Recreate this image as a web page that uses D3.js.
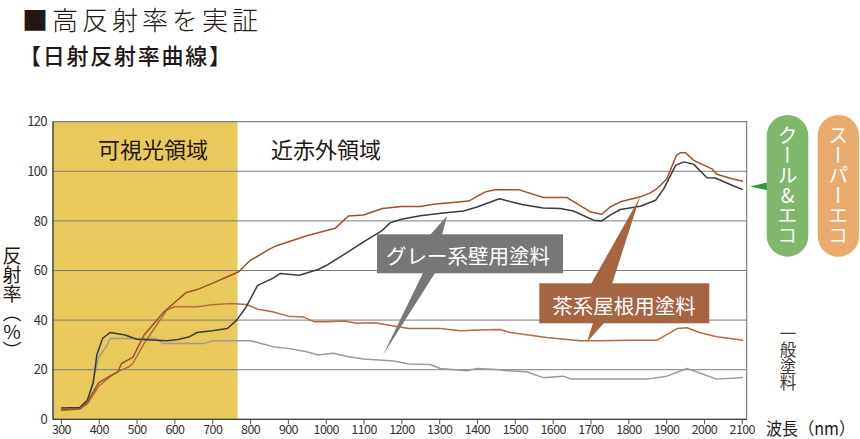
<!DOCTYPE html>
<html>
<head>
<meta charset="utf-8">
<script src="https://cdn.jsdelivr.net/npm/d3@7"></script>
<style>
  body { margin: 0; background: #fff; }
  svg { display: block; font-family: "Noto Sans CJK JP", "Noto Sans", sans-serif; }
  .vt { writing-mode: vertical-rl; text-orientation: upright; }
</style>
</head>
<body>
<svg id="chart" width="860" height="439"></svg>
<script>
// tick labels
var xTicks = d3.range(300, 2101, 100)
var yTicks = [0, 20, 40, 60, 80, 100, 120]
var visibleEnd = 767  // 可視光領域 ends here (nm)

// [wavelength nm, reflectance %]
var superEcoBrown = [[300,3.8],[350,4.3],[370,7],[400,14.8],[430,17.5],[450,19],[460,22.5],[490,25],[520,34],[570,43],[600,47],[630,51],[660,52.3],[700,54.8],[740,57.5],[770,59.5],[800,64],[850,68.5],[870,70],[900,71.5],[950,74],[1000,76],[1025,77],[1060,82],[1100,82.4],[1150,85],[1200,85.8],[1250,85.8],[1285,86.7],[1378,88],[1422,91.7],[1448,92.6],[1510,92.6],[1575,89.4],[1638,89.4],[1700,83.6],[1730,82.7],[1752,85.6],[1779,87.7],[1832,89.7],[1858,91.3],[1876,93],[1902,97],[1927,106.4],[1938,107.5],[1951,107.5],[1973,104.4],[2021,101],[2034,98.8],[2074,97],[2103,96]]

var coolEcoGray = [[300,4.6],[350,4.8],[370,7.8],[385,14.5],[395,26],[410,32.6],[430,35],[470,34],[500,32.3],[540,32],[580,31.7],[610,32.2],[640,33.3],[660,35],[700,35.7],[740,36.6],[765,40],[790,45.4],[820,54],[860,56.8],[880,58.8],[930,58.1],[980,60.4],[1000,61.9],[1050,66.6],[1100,71.5],[1150,76.2],[1170,79.2],[1200,80.7],[1250,82.1],[1311,83.2],[1364,84],[1400,85.6],[1459,88.9],[1519,86.6],[1575,85.2],[1620,85],[1655,84],[1708,80.3],[1730,80],[1752,82.3],[1779,84.6],[1832,85.9],[1872,88.3],[1894,93],[1925,102.4],[1947,103.8],[1973,102.8],[2008,97.4],[2030,97.3],[2074,94.4],[2103,92.6]]

var generalBrown = [[300,3.5],[350,4.2],[370,6.2],[400,13.4],[430,17.2],[450,19.2],[480,21.2],[490,22.5],[520,30.6],[550,37.3],[580,44],[600,45.4],[660,45.4],[700,46.2],[750,46.7],[790,46.3],[820,44.4],[860,43.4],[900,41.6],[940,41.3],[970,39.3],[1000,39.3],[1050,39.6],[1080,38.7],[1130,38.9],[1180,37.6],[1220,36.6],[1303,36.6],[1356,35.7],[1408,36],[1461,36.2],[1488,35],[1584,33],[1673,31.7],[1726,31.7],[1805,31.9],[1876,31.9],[1929,36.6],[1955,36.9],[1990,34.9],[2034,33.3],[2103,31.9]]

var generalGray = [[300,4],[350,4.4],[370,7],[390,18.5],[400,25.2],[420,29.3],[430,32.6],[550,32.6],[570,30.6],[680,30.6],[700,31.7],[800,31.7],[830,30.6],[860,29.3],[900,28.6],[950,27.2],[980,25.9],[1020,26.6],[1060,25.2],[1100,24.3],[1180,23.5],[1220,22.3],[1276,22.1],[1303,20.5],[1373,19.6],[1400,20.5],[1452,20.1],[1479,19.6],[1531,19.2],[1575,16.8],[1628,17.4],[1650,16.2],[1849,16.2],[1902,17.4],[1955,20.5],[2034,16.2],[2103,16.9]]

var svg = d3.select("#chart")

var x = d3.scaleLinear().domain([279, 2113]).range([53, 746.7])
var y = d3.scaleLinear().domain([0, 120]).range([419.3, 121.7])

// titles
svg.append("text").attr("x", 22).attr("y", 18).attr("dominant-baseline", "central")
    .attr("font-size", 26).attr("font-weight", 300).attr("fill", "#231815")
    .attr("textLength", 236).attr("lengthAdjust", "spacing")
    .text("■高反射率を実証")
svg.append("text").attr("x", 19).attr("y", 54).attr("dominant-baseline", "central")
    .attr("font-size", 22).attr("font-weight", 500).attr("fill", "#231815")
    .attr("textLength", 212).attr("lengthAdjust", "spacing")
    .text("【日射反射率曲線】")

// visible light band
svg.append("rect")
    .attr("x", x(279)).attr("y", y(120))
    .attr("width", x(visibleEnd) - x(279)).attr("height", y(0) - y(120))
    .attr("fill", "#e9c95c")

// grid
svg.append("g").selectAll("line")
    .data([20, 40, 60, 80, 100])
    .enter().append("line")
    .attr("x1", x(279)).attr("x2", x(2113))
    .attr("y1", d => y(d)).attr("y2", d => y(d))
    .attr("stroke", "#7d7d7d").attr("stroke-width", 1)

// frame
svg.append("rect")
    .attr("x", x(279)).attr("y", y(120))
    .attr("width", x(2113) - x(279)).attr("height", y(0) - y(120))
    .attr("fill", "none").attr("stroke", "#666").attr("stroke-width", 1)
svg.append("line").attr("x1", x(279)).attr("x2", x(279)).attr("y1", y(0)).attr("y2", y(120))
    .attr("stroke", "#444").attr("stroke-width", 1.2)
svg.append("line").attr("x1", x(279)).attr("x2", x(2113)).attr("y1", y(0)).attr("y2", y(0))
    .attr("stroke", "#444").attr("stroke-width", 1.2)

// axes
var xAxis = svg.append("g").attr("transform", `translate(0,${y(0)})`)
    .call(d3.axisBottom(x).tickValues(xTicks).tickSize(5).tickPadding(1).tickFormat(d3.format("d")))
xAxis.select(".domain").remove()
xAxis.selectAll("line").attr("stroke", "#555")
xAxis.selectAll("text").attr("font-size", 12.5).attr("fill", "#333").attr("letter-spacing", -0.6)
    .attr("font-family", "'Noto Sans CJK JP', sans-serif")

var yAxis = svg.append("g").attr("transform", `translate(${x(279)},0)`)
    .call(d3.axisLeft(y).tickValues(yTicks).tickSize(0).tickPadding(6))
yAxis.select(".domain").remove()
yAxis.selectAll("text").attr("font-size", 13).attr("fill", "#333").attr("letter-spacing", -0.6)
    .attr("font-family", "'Noto Sans CJK JP', sans-serif")

// region labels
svg.append("text").attr("x", 153).attr("y", 148).attr("text-anchor", "middle").attr("dominant-baseline", "central")
    .attr("font-size", 22).attr("fill", "#231815").text("可視光領域")
svg.append("text").attr("x", 326).attr("y", 148).attr("text-anchor", "middle").attr("dominant-baseline", "central")
    .attr("font-size", 22).attr("fill", "#231815").text("近赤外領域")

// curves
var line = d3.line().x(d => x(d[0])).y(d => y(d[1]))
var series = [
    {data: generalGray, color: "#9a9a9a"},
    {data: generalBrown, color: "#b36a45"},
    {data: coolEcoGray, color: "#3b3b3b"},
    {data: superEcoBrown, color: "#a24f2c"}
]
svg.append("g").selectAll("path")
    .data(series)
    .enter().append("path")
    .attr("d", d => line(d.data))
    .attr("fill", "none")
    .attr("stroke", d => d.color)
    .attr("stroke-width", 1.5)
    .attr("stroke-linejoin", "round")

// callouts
var grayC = svg.append("g")
grayC.append("polygon").attr("points", "430,235 442,235 447,216").attr("fill", "#777")
grayC.append("polygon").attr("points", "423,273 435,273 383,355").attr("fill", "#777")
grayC.append("rect").attr("x", 377).attr("y", 234.3).attr("width", 186).attr("height", 39).attr("fill", "#777")
grayC.append("text").attr("x", 468).attr("y", 255).attr("text-anchor", "middle").attr("dominant-baseline", "central")
    .attr("font-size", 20.5).attr("fill", "#fff").text("グレー系壁用塗料")

var brownC = svg.append("g")
brownC.append("polygon").attr("points", "591,284 612,284 640,197").attr("fill", "#a66540")
brownC.append("polygon").attr("points", "593,323 604,323 587,342").attr("fill", "#a66540")
brownC.append("rect").attr("x", 539.3).attr("y", 283.3).attr("width", 170).attr("height", 40).attr("fill", "#a66540")
brownC.append("text").attr("x", 624).attr("y", 305).attr("text-anchor", "middle").attr("dominant-baseline", "central")
    .attr("font-size", 20.5).attr("fill", "#fff").text("茶系屋根用塗料")

// product pills
svg.append("polygon").attr("points", "750,186.5 771,181.5 771,191").attr("fill", "#2a9a3a")
svg.append("rect").attr("x", 766.7).attr("y", 115).attr("width", 41.6).attr("height", 141.7).attr("rx", 20.8)
    .attr("fill", "#80b86b")
svg.append("text").attr("class", "vt").attr("x", 787.5).attr("y", 185).attr("text-anchor", "middle")
    .attr("font-size", 20).attr("fill", "#fff").text("クール&エコ")
svg.append("rect").attr("x", 817.7).attr("y", 115).attr("width", 41.3).attr("height", 141.7).attr("rx", 20.6)
    .attr("fill", "#e8aa6d")
svg.append("text").attr("class", "vt").attr("x", 838.3).attr("y", 185).attr("text-anchor", "middle")
    .attr("font-size", 20).attr("fill", "#fff").text("スーパーエコ")

svg.append("text").attr("class", "vt").attr("x", 788).attr("y", 358).attr("text-anchor", "middle")
    .attr("font-size", 16.5).attr("fill", "#3e3a39").text("一般塗料")

// axis titles
svg.append("text").attr("class", "vt").attr("x", 12).attr("y", 303).attr("text-anchor", "middle")
    .attr("font-size", 19).attr("fill", "#231815").text("反射率（%）")
svg.append("text").attr("x", 766).attr("y", 427.5).attr("dominant-baseline", "central")
    .attr("font-size", 17).attr("fill", "#231815")
    .attr("textLength", 89).attr("lengthAdjust", "spacingAndGlyphs")
    .text("波長（nm）")
</script>
</body>
</html>
